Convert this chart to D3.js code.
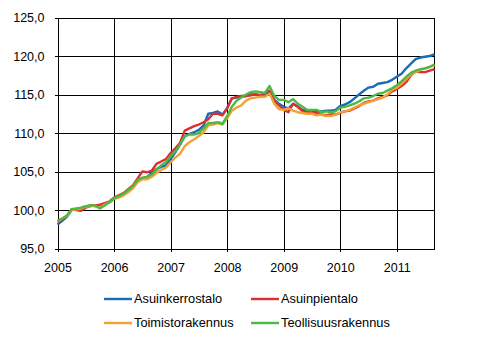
<!DOCTYPE html>
<html>
<head>
<meta charset="utf-8">
<script src="https://cdn.jsdelivr.net/npm/d3@7"></script>
<style>
  body { margin: 0; background: #fff; }
  svg { display: block; }
  text { font-family: Arial, "Liberation Sans", sans-serif; font-size: 12px; fill: #000; }
</style>
</head>
<body>
<svg id="chart" width="496" height="340"></svg>
<script>
// ---- Data (monthly, Jan 2005 – Sep 2011) ----
const years = ["2005", "2006", "2007", "2008", "2009", "2010", "2011"];
const yTicks = [95, 100, 105, 110, 115, 120, 125];
const seriesNames = ["Asuinkerrostalo", "Asuinpientalo", "Toimistorakennus", "Teollisuusrakennus"];

const asuinkerrostalo = [
  98.1, 98.6, 99.1, 100.0, 100.1, 100.2, 100.4, 100.6, 100.5, 100.4, 100.8, 101.0,
  101.5, 101.8, 102.0, 102.5, 103.0, 103.8, 104.1, 104.3, 104.8, 105.3, 105.6, 105.8,
  106.6, 107.5, 108.5, 109.6, 109.9, 110.1, 110.4, 111.0, 112.5, 112.6, 112.8, 112.4,
  113.2, 114.5, 114.6, 114.7, 114.8, 115.0, 115.0, 114.9, 115.0, 115.3, 114.3, 113.8,
  113.4, 113.2, 113.8, 113.4, 113.0, 112.9, 112.9, 112.7, 112.8, 112.9, 112.9, 113.0,
  113.5, 113.7, 114.0, 114.5, 115.0, 115.5, 115.9, 116.0, 116.4, 116.5, 116.6, 116.9,
  117.3, 117.7, 118.4, 119.0, 119.6, 119.8, 119.9, 120.0, 120.2
];
const asuinpientalo = [
  98.4, 98.8, 99.2, 100.1, 100.0, 99.9, 100.3, 100.5, 100.6, 100.7, 100.9, 101.1,
  101.6, 101.9, 102.2, 102.7, 103.2, 104.1, 105.0, 104.9, 105.1, 106.0, 106.3, 106.6,
  107.4, 108.0, 108.7, 110.3, 110.6, 110.9, 111.1, 111.4, 111.8, 112.5, 112.5, 112.3,
  113.2, 114.5, 114.7, 114.8, 114.8, 114.9, 115.0, 114.9, 115.2, 115.5, 114.2, 113.6,
  113.0, 112.7, 113.8, 113.4, 112.8, 112.7, 112.6, 112.6, 112.4, 112.3, 112.4, 112.4,
  112.6, 112.8, 112.9, 113.2, 113.5, 113.9, 114.1, 114.2, 114.5, 114.7, 114.9, 115.4,
  115.7, 116.1, 116.6, 117.5, 118.0, 117.9, 117.9, 118.1, 118.3
];
const toimistorakennus = [
  98.5, 98.9, 99.2, 100.0, 100.1, 100.2, 100.4, 100.5, 100.5, 100.3, 100.7, 101.0,
  101.4, 101.6, 101.9, 102.3, 102.8, 103.6, 104.0, 104.0, 104.3, 104.8, 105.2, 105.5,
  106.2, 106.8, 107.3, 108.3, 108.8, 109.2, 109.6, 110.1, 111.0, 111.1, 111.3, 111.1,
  111.9, 112.9, 113.3, 113.6, 114.2, 114.5, 114.6, 114.7, 114.7, 115.1, 113.8, 113.1,
  113.0, 113.2, 112.9, 112.7, 112.6, 112.5, 112.5, 112.3, 112.4, 112.2, 112.2, 112.4,
  112.7, 112.8, 113.0, 113.3, 113.6, 113.8, 114.0, 114.2, 114.4, 114.6, 115.0, 115.6,
  115.9, 116.4, 117.0, 117.6, 117.9, 118.2, 118.4, 118.6, 118.8
];
const teollisuusrakennus = [
  98.6, 98.9, 99.3, 100.1, 100.2, 100.3, 100.5, 100.6, 100.6, 100.2, 100.6, 101.0,
  101.5, 101.8, 102.1, 102.6, 103.1, 103.9, 104.2, 104.3, 104.6, 105.2, 105.8, 106.2,
  107.0, 107.6, 108.5, 109.6, 109.8, 109.8, 110.0, 110.6, 111.3, 111.3, 111.4, 111.2,
  112.2, 113.4, 114.2, 114.6, 115.0, 115.3, 115.4, 115.3, 115.2, 116.1, 114.8, 114.3,
  114.3, 114.0, 114.4, 113.8, 113.4, 113.0, 113.0, 113.0, 112.7, 112.8, 112.7, 112.8,
  113.3, 113.4, 113.6, 113.8, 114.1, 114.5, 114.6, 114.8, 115.1, 115.2, 115.5, 115.8,
  116.2, 116.7, 117.3, 117.8, 118.1, 118.3, 118.4, 118.6, 118.9
];
const seriesValues = [asuinkerrostalo, asuinpientalo, toimistorakennus, teollisuusrakennus];
const colors = ["#1a6bb8", "#dc2f2f", "#f5a033", "#4cb944"];

// ---- Layout ----
const svg = d3.select("#chart");
const L = 57.5, R = 434.5, T = 17.5, B = 248.5;
const nMonths = asuinkerrostalo.length;

const x = d3.scaleLinear().domain([0, nMonths - 1]).range([L, R]);
const y = d3.scaleLinear().domain([95, 125]).range([B, T]);

// Y axis + horizontal gridlines
const yAxis = d3.axisLeft(y)
  .tickValues(yTicks)
  .tickSize(-(R - L))
  .tickPadding(13)
  .tickFormat(d => d3.format(".1f")(d).replace(".", ","));
const gy = svg.append("g").attr("transform", `translate(${L},0)`).call(yAxis);
gy.select(".domain").remove();
gy.selectAll(".tick line").attr("x1", -3).attr("stroke", "#000").attr("shape-rendering", "crispEdges");
gy.selectAll(".tick text").style("font-size", "12.5px").attr("x", -13);

// X axis + vertical gridlines
const xTickVals = years.map((d, i) => i * 12);
const xAxis = d3.axisBottom(x)
  .tickValues(xTickVals)
  .tickSize(-(B - T))
  .tickPadding(14)
  .tickFormat((d, i) => years[i]);
const gx = svg.append("g").attr("transform", `translate(0,${B})`).call(xAxis);
gx.select(".domain").remove();
gx.selectAll(".tick line").attr("y1", 3).attr("stroke", "#000").attr("shape-rendering", "crispEdges");
gx.selectAll(".tick text").style("font-size", "12.5px").attr("y", 15);

// Right border
svg.append("line")
  .attr("x1", R).attr("x2", R).attr("y1", T).attr("y2", B)
  .attr("stroke", "#000").attr("shape-rendering", "crispEdges");

// Lines
const line = d3.line().x((d, i) => x(i)).y(d => y(d));
seriesValues.forEach((vals, k) => {
  svg.append("path")
    .datum(vals)
    .attr("fill", "none")
    .attr("stroke", colors[k])
    .attr("stroke-width", 2.4)
    .attr("stroke-linejoin", "round")
    .attr("d", line);
});

// Legend
const legendPos = [
  { lx: 104, ly: 299 }, { lx: 251, ly: 299 },
  { lx: 104, ly: 323 }, { lx: 251, ly: 323 }
];
seriesNames.forEach((name, k) => {
  const p = legendPos[k];
  const g = svg.append("g").attr("transform", `translate(${p.lx},${p.ly})`);
  g.append("line").attr("x1", 0).attr("x2", 28).attr("y1", 0).attr("y2", 0)
    .attr("stroke", colors[k]).attr("stroke-width", 2.4);
  g.append("text").attr("x", 30).attr("y", 0).attr("dy", "0.35em")
    .style("font-size", "12.8px").text(name);
});
</script>
</body>
</html>
